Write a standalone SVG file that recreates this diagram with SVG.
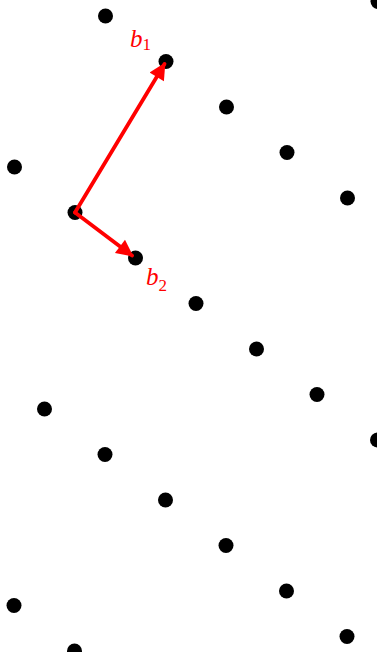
<svg xmlns="http://www.w3.org/2000/svg" width="377" height="652" viewBox="0 0 377 652">
<style>
.pt{fill:#000}
.vec{stroke:#ff0000;stroke-width:3.8;fill:none;stroke-linecap:round}
.lbl{fill:#ff0000;font-family:"Liberation Serif",serif;font-style:italic;font-size:25px}
.sub{font-style:normal;font-size:17px}
</style>
<defs>
<marker id="ah" viewBox="0 0 10 10" refX="9" refY="5" markerWidth="5.8" markerHeight="4.4" markerUnits="strokeWidth" orient="auto">
<path d="M0,0 L10,5 L0,10 z" fill="#ff0000"/>
</marker>
</defs>
<rect width="377" height="652" fill="#fff"/>
<g id="points">
<circle class="pt" cx="105.5" cy="16" r="7.5"/>
<circle class="pt" cx="166" cy="61.5" r="7.5"/>
<circle class="pt" cx="226.5" cy="107" r="7.5"/>
<circle class="pt" cx="287" cy="152.5" r="7.5"/>
<circle class="pt" cx="347.5" cy="198" r="7.5"/>
<circle class="pt" cx="378" cy="1.5" r="7.5"/>
<circle class="pt" cx="14.5" cy="167" r="7.5"/>
<circle class="pt" cx="75" cy="212.5" r="7.5"/>
<circle class="pt" cx="135.5" cy="258" r="7.5"/>
<circle class="pt" cx="196" cy="303.5" r="7.5"/>
<circle class="pt" cx="256.5" cy="349" r="7.5"/>
<circle class="pt" cx="317" cy="394.5" r="7.5"/>
<circle class="pt" cx="377.5" cy="440" r="7.5"/>
<circle class="pt" cx="44.5" cy="409" r="7.5"/>
<circle class="pt" cx="105" cy="454.5" r="7.5"/>
<circle class="pt" cx="165.5" cy="500" r="7.5"/>
<circle class="pt" cx="226" cy="545.5" r="7.5"/>
<circle class="pt" cx="286.5" cy="591" r="7.5"/>
<circle class="pt" cx="347" cy="636.5" r="7.5"/>
<circle class="pt" cx="14" cy="605.5" r="7.5"/>
<circle class="pt" cx="74.5" cy="651" r="7.5"/>
</g>
<g id="connectors">
<line class="vec" x1="75" y1="212.5" x2="164.5" y2="64" marker-end="url(#ah)"/>
<line class="vec" x1="75" y1="212.5" x2="132" y2="255.5" marker-end="url(#ah)"/>
</g>
<g id="b1"><text class="lbl" x="130" y="47">b<tspan class="sub" dy="3">1</tspan></text></g>
<g id="b2"><text class="lbl" x="146" y="285">b<tspan class="sub" dy="6">2</tspan></text></g>
</svg>
